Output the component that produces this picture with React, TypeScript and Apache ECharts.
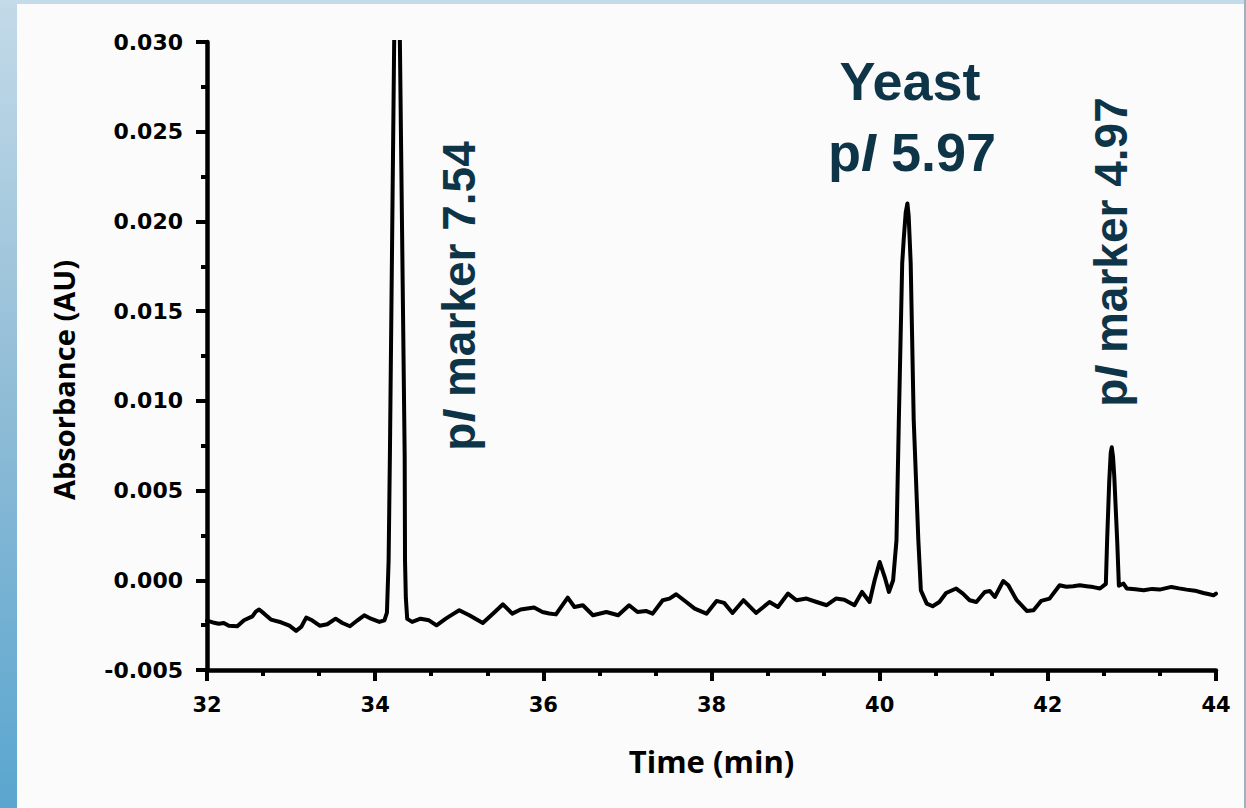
import React, { useEffect, useRef } from "react";
import * as echarts from "echarts";

// Electropherogram trace: time (min) and absorbance (AU)
const times: number[] = [
  32.0, 32.07, 32.14, 32.2, 32.26, 32.36, 32.44, 32.54, 32.58, 32.62, 32.68, 32.76, 32.88, 32.98,
  33.06, 33.12, 33.18, 33.25, 33.34, 33.43, 33.53, 33.61, 33.7, 33.79, 33.87, 33.95, 34.05, 34.11,
  34.14, 34.16, 34.175, 34.226, 34.25, 34.265, 34.28, 34.294, 34.351, 34.355, 34.365, 34.381,
  34.44, 34.54, 34.64, 34.73, 34.84, 34.92, 35.0, 35.12, 35.28, 35.4, 35.52, 35.63, 35.73, 35.89,
  35.99, 36.07, 36.15, 36.29, 36.37, 36.47, 36.59, 36.75, 36.89, 37.02, 37.12, 37.22, 37.3, 37.42,
  37.5, 37.58, 37.7, 37.8, 37.94, 38.06, 38.15, 38.25, 38.38, 38.53, 38.69, 38.79, 38.91, 39.01,
  39.13, 39.25, 39.37, 39.48, 39.58, 39.7, 39.79, 39.88, 39.94, 40.0, 40.06, 40.11, 40.16, 40.2,
  40.228, 40.268, 40.286, 40.31, 40.33, 40.345, 40.357, 40.369, 40.405, 40.46, 40.49, 40.56, 40.63,
  40.71, 40.79, 40.91, 40.99, 41.07, 41.15, 41.25, 41.31, 41.37, 41.47, 41.53, 41.63, 41.75, 41.83,
  41.92, 42.02, 42.14, 42.22, 42.3, 42.38, 42.46, 42.54, 42.62, 42.69, 42.705, 42.73, 42.748, 42.76,
  42.775, 42.79, 42.825, 42.845, 42.9, 42.94, 43.04, 43.14, 43.24, 43.33, 43.47, 43.56, 43.65, 43.75,
  43.85, 43.92, 43.97, 44.0,
];

const absorbance: number[] = [
  -0.00225, -0.00235, -0.00242, -0.00238, -0.00253, -0.00256, -0.00223, -0.00201, -0.00175, -0.00163,
  -0.00186, -0.00219, -0.00234, -0.00253, -0.00282, -0.0026, -0.00208, -0.00223, -0.00253, -0.00245,
  -0.00214, -0.00238, -0.00256, -0.00223, -0.00195, -0.00214, -0.00232, -0.00223, -0.0018, 0.0011,
  0.0069, 0.03, 0.04, 0.045, 0.04, 0.03, 0.0069, 0.0011, -0.001, -0.00215,
  -0.00232, -0.00214, -0.00223, -0.00251, -0.00214, -0.0019, -0.00167, -0.00195, -0.00238, -0.00186,
  -0.00134, -0.00186, -0.00163, -0.00152, -0.00177, -0.00185, -0.0019, -0.00097, -0.00149, -0.00139,
  -0.00195, -0.00177, -0.00195, -0.00139, -0.00177, -0.00171, -0.00186, -0.00111, -0.00102, -0.00078,
  -0.00121, -0.00158, -0.00186, -0.00115, -0.00126, -0.00182, -0.00111, -0.00182, -0.00121, -0.00149,
  -0.00074, -0.00111, -0.00102, -0.00121, -0.00139, -0.00102, -0.00108, -0.00139, -0.00065, -0.00121,
  0.0, 0.00102, 0.00018, -0.00065, 0.0, 0.00223,
  0.00892, 0.01767, 0.019, 0.0205, 0.021, 0.0203, 0.019, 0.01767, 0.00892, 0.00223, -0.00056, -0.0013,
  -0.00145, -0.00121, -0.00071, -0.00046, -0.00074, -0.00111, -0.00121, -0.00065, -0.0006, -0.00093,
  -0.00004, -0.00028, -0.00111, -0.00171, -0.00167, -0.00115, -0.00102, -0.00028, -0.00036, -0.00033,
  -0.00028, -0.00033, -0.00038, -0.00046, -0.0002, 0.0022, 0.0055, 0.0071, 0.00741,
  0.0069, 0.0058, 0.0022, -0.0003, -0.00018, -0.00046, -0.0005, -0.00056, -0.00048, -0.00052, -0.00037,
  -0.00045, -0.00052, -0.00058, -0.00071, -0.00078, -0.00084, -0.00074,
];

const xTicks = { min: 32, max: 44, step: 2 };
const yTicks = { min: -0.005, max: 0.03, step: 0.005 };

const xTitle = "Time (min)";
const yTitle = "Absorbance (AU)";

const markerLow = ["p", "I", " marker 7.54"];
const markerHigh = ["p", "I", " marker 4.97"];
const yeastName = "Yeast";
const yeastPI = ["p", "I", " 5.97"];

const LABEL_COLOR = "#0e3447";

export default function App() {
  const ref = useRef<HTMLDivElement>(null);

  useEffect(() => {
    if (!ref.current) return;
    const chart = echarts.init(ref.current, undefined, { renderer: "svg" });
    const data = times.map((t, i) => [t, absorbance[i]]);

    const richStyle = (size: number) => ({
      a: { fontFamily: "Liberation Sans", fontWeight: "bold", fontSize: size, fill: LABEL_COLOR },
      b: { fontFamily: "Liberation Sans", fontWeight: "bold", fontStyle: "italic", fontSize: size, fill: LABEL_COLOR },
    });
    const richText = (parts: string[]) => `{a|${parts[0]}}{b|${parts[1]}}{a|${parts[2]}}`;

    const axisFont = { fontFamily: "DejaVu Sans", fontWeight: "bold", color: "#000" };

    chart.setOption({
      animation: false,
      backgroundColor: "#fbfbfb",
      grid: { left: 207, right: 30, top: 42, bottom: 138, containLabel: false },
      xAxis: {
        type: "value",
        min: xTicks.min,
        max: xTicks.max,
        interval: xTicks.step,
        name: xTitle,
        nameLocation: "middle",
        nameGap: 75,
        nameTextStyle: { fontFamily: "Open Sans", fontWeight: "bold", fontSize: 31, color: "#000" },
        axisLine: { onZero: false, lineStyle: { color: "#000", width: 4.5 } },
        axisTick: { length: 11, lineStyle: { color: "#000", width: 4 } },
        minorTick: { show: true, splitNumber: 3, length: 6, lineStyle: { color: "#000", width: 4 } },
        splitLine: { show: false },
        minorSplitLine: { show: false },
        axisLabel: { ...axisFont, fontSize: 21, margin: 24, formatter: (v: number) => String(v) },
      },
      yAxis: {
        type: "value",
        min: yTicks.min,
        max: yTicks.max,
        interval: yTicks.step,
        axisLine: { onZero: false, lineStyle: { color: "#000", width: 4.5 } },
        axisTick: { length: 11, lineStyle: { color: "#000", width: 4 } },
        minorTick: { show: true, splitNumber: 2, length: 6, lineStyle: { color: "#000", width: 4 } },
        splitLine: { show: false },
        minorSplitLine: { show: false },
        axisLabel: { ...axisFont, fontSize: 22, margin: 24, formatter: (v: number) => v.toFixed(3) },
      },
      series: [
        {
          type: "line",
          data,
          showSymbol: false,
          symbol: "none",
          clip: true,
          lineStyle: { color: "#000", width: 4, join: "round", cap: "round" },
        },
      ],
      graphic: [
        {
          type: "rect",
          left: 0,
          top: 0,
          shape: { width: 17, height: 808 },
          style: {
            fill: new echarts.graphic.LinearGradient(0, 0, 0, 1, [
              { offset: 0, color: "#c3dae8" },
              { offset: 0.5, color: "#8fbcd6" },
              { offset: 1, color: "#5aa6cf" },
            ]),
          },
          silent: true,
        },
        {
          type: "rect",
          left: 0,
          top: 0,
          shape: { width: 1246, height: 4 },
          style: { fill: "#c4dbe9" },
          silent: true,
        },
        {
          type: "rect",
          left: 1244,
          top: 0,
          shape: { width: 2, height: 808 },
          style: { fill: "#9db3c2" },
          silent: true,
        },
        {
          type: "text",
          x: 63,
          y: 380,
          rotation: Math.PI / 2,
          style: {
            text: yTitle,
            font: "bold 29px 'Open Sans'",
            fill: "#000",
            align: "center",
            verticalAlign: "middle",
          },
          silent: true,
        },
        {
          type: "text",
          x: 459,
          y: 296,
          rotation: Math.PI / 2,
          style: {
            text: richText(markerLow),
            rich: richStyle(46),
            align: "center",
            verticalAlign: "middle",
          },
          silent: true,
        },
        {
          type: "text",
          x: 1111,
          y: 252,
          rotation: Math.PI / 2,
          style: {
            text: richText(markerHigh),
            rich: richStyle(46),
            align: "center",
            verticalAlign: "middle",
          },
          silent: true,
        },
        {
          type: "text",
          x: 910,
          y: 81,
          style: {
            text: yeastName,
            font: "bold 54px 'Liberation Sans'",
            fill: LABEL_COLOR,
            align: "center",
            verticalAlign: "middle",
          },
          silent: true,
        },
        {
          type: "text",
          x: 912,
          y: 152,
          style: {
            text: richText(yeastPI),
            rich: richStyle(54),
            align: "center",
            verticalAlign: "middle",
          },
          silent: true,
        },
      ],
    });

    return () => chart.dispose();
  }, []);

  return (
    <div
      ref={ref}
      style={{ position: "fixed", left: 0, top: 0, width: 1246, height: 808 }}
    />
  );
}
